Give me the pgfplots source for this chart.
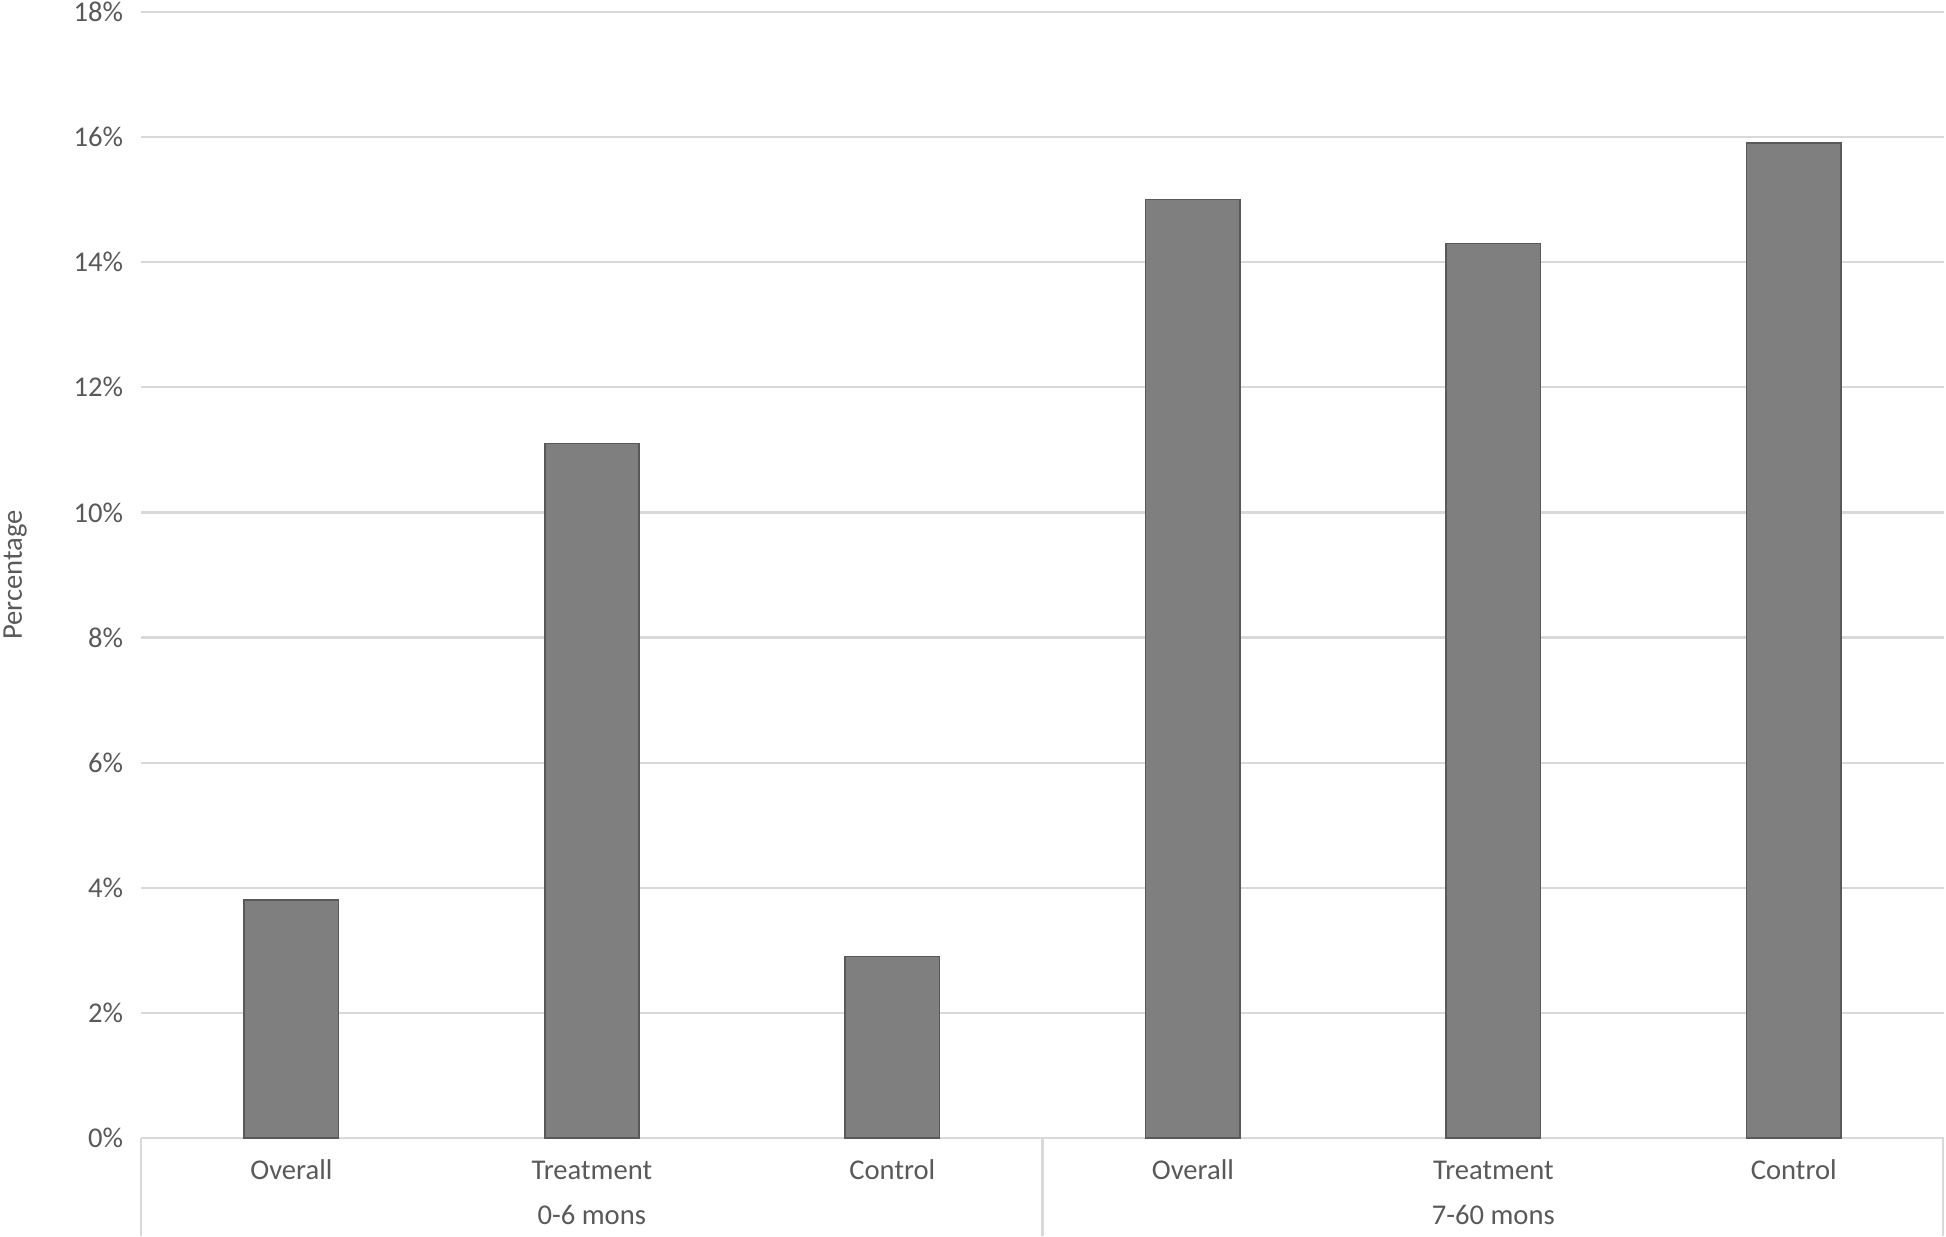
\documentclass[border=0pt]{standalone}
\usepackage{fontspec}
\setmainfont{Carlito}
\usepackage{pgfplots}
\pgfplotsset{compat=1.18}
\definecolor{txt}{HTML}{595959}
\definecolor{gridc}{HTML}{D9D9D9}
\definecolor{barfill}{HTML}{7F7F7F}
\definecolor{barline}{HTML}{595959}
\newcommand{\lbl}{\fontsize{10.3}{12}\selectfont}
\begin{document}
\begin{tikzpicture}
\useasboundingbox (-50.8pt,-35.3pt) rectangle (649.8pt,409.7pt);
\begin{axis}[
    scale only axis,
    width=649.1pt, height=405.4pt,
    xmin=-0.5, xmax=5.5,
    ymin=0, ymax=18,
    axis line style={draw=none},
    major tick length=0pt,
    ytick={0,2,4,6,8,10,12,14,16,18},
    yticklabels={0\%,2\%,4\%,6\%,8\%,10\%,12\%,14\%,16\%,18\%},
    yticklabel style={font=\lbl, text=txt, xshift=-3pt},
    xtick={0,1,2,3,4,5},
    xticklabels={Overall,Treatment,Control,Overall,Treatment,Control},
    xticklabel style={font=\lbl, text=txt, anchor=base, yshift=-15pt},
    ymajorgrids,
    grid style={gridc, line width=0.8pt},
    ylabel={Percentage},
    every axis y label/.style={at={(axis description cs:-0.0699,0.5)}, rotate=90, anchor=center, font=\lbl, text=txt},
    clip=false,
]
\addplot[ybar, bar width=0.314, fill=barfill, draw=barline, line width=0.6pt]
    coordinates {(0,3.8) (1,11.1) (2,2.9) (3,15.0) (4,14.3) (5,15.9)};

% group separators below the axis
\draw[gridc, line width=0.8pt] (axis cs:-0.5,0) -- ++(0pt,-35.3pt);
\draw[gridc, line width=0.8pt] (axis cs:2.5,0) -- ++(0pt,-35.3pt);
\draw[gridc, line width=0.8pt] ([xshift=-0.4pt]axis cs:5.5,0) -- ++(0pt,-35.3pt);

\node[font=\lbl, text=txt, anchor=base] at ([yshift=-31.3pt]axis cs:1,0) {0-6 mons};
\node[font=\lbl, text=txt, anchor=base] at ([yshift=-31.3pt]axis cs:4,0) {7-60 mons};
\end{axis}
\end{tikzpicture}
\end{document}
